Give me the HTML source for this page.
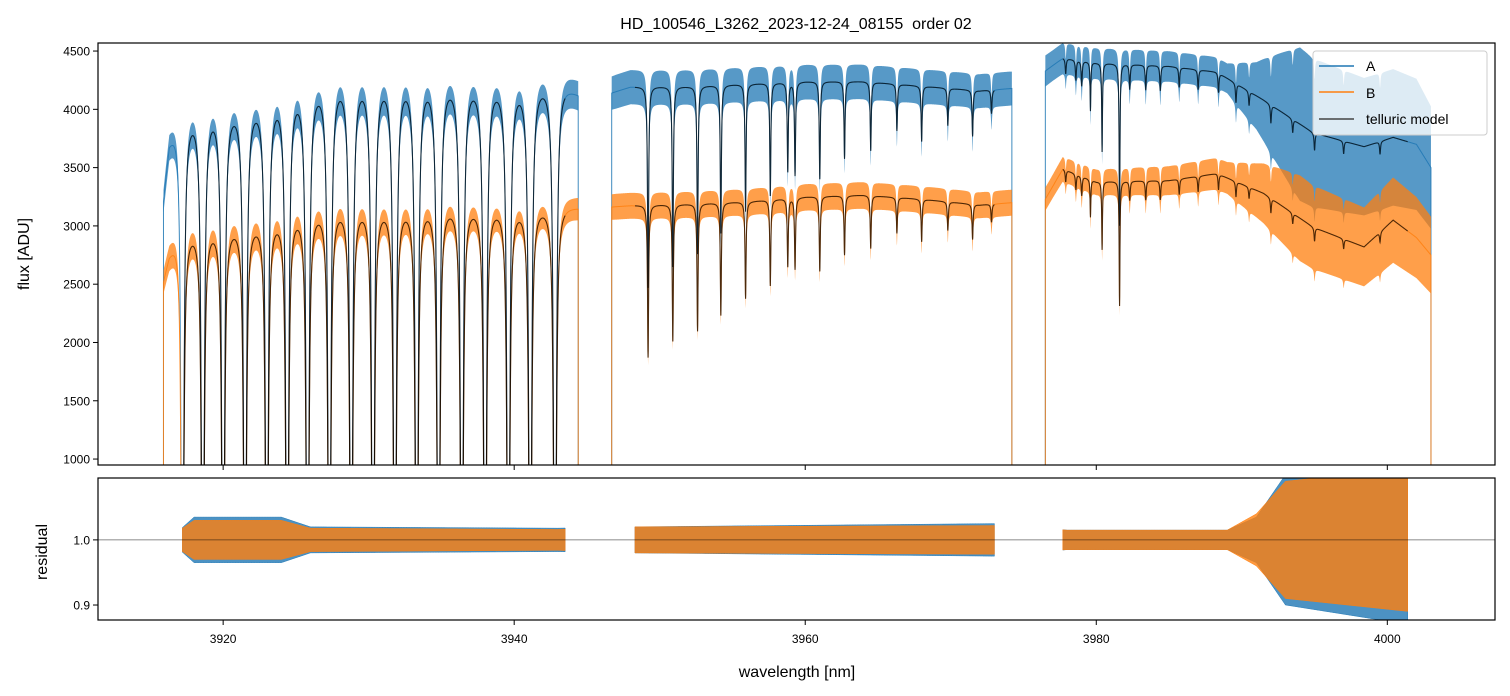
<!DOCTYPE html>
<html><head><meta charset="utf-8">
<style>
html,body{margin:0;padding:0;background:#fff;}
svg{display:block;font-family:"Liberation Sans","DejaVu Sans",sans-serif;}
</style></head>
<body>
<svg id="chart" width="1510" height="696" viewBox="0 0 1510 696" xmlns="http://www.w3.org/2000/svg">
<defs>
<clipPath id="clipTop"><rect x="98" y="43" width="1397" height="422"/></clipPath>
<clipPath id="clipBot"><rect x="98" y="478" width="1397" height="142"/></clipPath>
</defs>
<text x="796" y="29" text-anchor="middle" font-size="16">HD_100546_L3262_2023-12-24_08155 &#160;order 02</text>
<g id="topMarks" clip-path="url(#clipTop)"></g>
<g id="botMarks" clip-path="url(#clipBot)"></g>
<rect x="98" y="43" width="1397" height="422" fill="none" stroke="#000" stroke-width="1.2"/>
<rect x="98" y="478" width="1397" height="142" fill="none" stroke="#000" stroke-width="1.2"/>
<g id="axes" font-size="12"></g>
<text transform="translate(29,254) rotate(-90)" text-anchor="middle" font-size="16">flux [ADU]</text>
<text transform="translate(47,552) rotate(-90)" text-anchor="middle" font-size="16">residual</text>
<text x="797" y="677" text-anchor="middle" font-size="16">wavelength [nm]</text>
<g>
<rect x="1313" y="51" width="174" height="84" rx="3" fill="#fff" fill-opacity="0.8" stroke="#ccc"/>
<line x1="1319" y1="66" x2="1354" y2="66" stroke="#1f77b4" stroke-width="1.5"/>
<text x="1366" y="71" font-size="14">A</text>
<line x1="1319" y1="92" x2="1354" y2="92" stroke="#ff7f0e" stroke-width="1.5"/>
<text x="1366" y="98" font-size="14">B</text>
<line x1="1319" y1="119" x2="1354" y2="119" stroke="#444" stroke-width="1.5"/>
<text x="1366" y="124" font-size="14">telluric model</text>
</g>
</svg>
<script>
// ---- data ----
const segStart = [3915.9, 3946.7, 3976.5];
const segEnd   = [3944.4, 3974.2, 4003.0];
const modelStart = [3917.2, 3948.3, 3977.7];
const modelEnd   = [3943.5, 3973.0, 4001.4];
const contW = [3915.9,3916.3,3917,3919,3922,3925,3928,3932,3936,3940,3943,3944.4,
               3946.7,3948,3952,3956,3960,3964,3968,3972,3974.2,
               3976.5,3977.7,3980,3985,3988.3,3991.5,3994.9,3998.4,4000.4,4002,4003];
const contA = [3250,3750,3980,4050,4100,4220,4310,4310,4290,4260,4270,4150,
               4150,4200,4200,4220,4240,4240,4200,4160,4180,
               4330,4440,4400,4370,4320,4080,3800,3680,3760,3700,3500];
const contB = [2550,2780,2980,3030,3070,3160,3210,3210,3220,3200,3200,3170,
               3170,3180,3190,3210,3250,3265,3230,3180,3200,
               3230,3490,3380,3390,3450,3280,2990,2820,3050,2900,2750];
const lineW = [3917.2,3918.6,3920.0,3921.5,3923.0,3924.4,3925.8,3927.3,3928.8,3930.3,3931.8,3933.3,3934.8,3936.4,3938.0,3939.6,3941.1,3942.8,
               3949.2,3950.9,3952.6,3954.2,3955.9,3957.6,3958.8,3959.3,3961.0,3962.7,3964.5,3966.3,3968.0,3969.8,3971.5,3972.8,
               3977.9,3978.6,3979.0,3979.6,3980.4,3981.6,3982.3,3983.4,3984.4,3985.7,3987.0,3988.4,3989.6,3990.5,3992.0,3993.5,3995.0,3997.0,3999.5];
const lineTau = [60,60,60,60,60,60,60,60,60,60,60,60,60,60,60,60,60,60,
                 0.53,0.46,0.42,0.36,0.30,0.26,0.20,0.21,0.22,0.17,0.15,0.10,0.12,0.08,0.10,0.05,
                 0.03,0.04,0.05,0.10,0.19,0.38,0.05,0.05,0.05,0.04,0.04,0.04,0.04,0.03,0.04,0.03,0.04,0.03,0.03];
const lineHW = [0.015,0.015,0.015,0.015,0.015,0.015,0.015,0.015,0.015,0.015,0.015,0.015,0.015,0.015,0.015,0.015,0.015,0.015,
                0.04,0.04,0.04,0.04,0.04,0.04,0.04,0.04,0.04,0.04,0.04,0.04,0.04,0.04,0.04,0.04,
                0.04,0.04,0.04,0.03,0.03,0.03,0.04,0.04,0.04,0.04,0.04,0.04,0.04,0.04,0.04,0.04,0.04,0.04,0.04];
const noiseW = [3916,3925,3944,3947,3974,3977,3989,3991,3994,4003];
const noiseA = [0.03,0.03,0.03,0.035,0.035,0.03,0.03,0.07,0.17,0.15];
const noiseB = [0.04,0.04,0.03,0.035,0.035,0.03,0.04,0.07,0.12,0.12];
const resW = [3917,3918,3924,3926,3943,3948,3973,3978,3989,3991,3993,4001.5];
const resA = [0.015,0.035,0.035,0.02,0.018,0.02,0.025,0.015,0.015,0.035,0.1,0.13];
const resB = [0.015,0.03,0.03,0.018,0.016,0.02,0.022,0.015,0.015,0.04,0.09,0.11];
const xTicks = [3920,3940,3960,3980,4000];
const yTicks = [1000,1500,2000,2500,3000,3500,4000,4500];
const rTicks = [0.9,1.0];

// ---- scales ----
const X0=3911.4, X1=4007.4;
const xs = w => 98 + (w-X0)*1397/(X1-X0);
const ys = v => 43 + (4569-v)*422/3620;
const yr = r => 478 + (1.095-r)*142/0.218;
function interp(W,V,w){
  if(w<=W[0])return V[0];
  for(let i=1;i<W.length;i++){ if(w<=W[i]){const t=(w-W[i-1])/(W[i]-W[i-1]);return V[i-1]+t*(V[i]-V[i-1]);} }
  return V[V.length-1];
}
function trans(w){
  let tau=0;
  for(let i=0;i<lineW.length;i++){const d=(w-lineW[i])/lineHW[i];tau+=lineTau[i]/(1+d*d);}
  return Math.exp(-tau);
}
const NS='http://www.w3.org/2000/svg';
const topG=document.getElementById('topMarks'), botG=document.getElementById('botMarks'), axesG=document.getElementById('axes');
function mk(tag,attrs,parent){const e=document.createElementNS(NS,tag);for(const k in attrs)e.setAttribute(k,attrs[k]);parent.appendChild(e);return e;}
const step=0.01;

function drawBand(cont,noise,color,name){
  for(let s=0;s<3;s++){
    const up=[],lo=[],mid=[];
    for(let w=segStart[s];w<=segEnd[s]+1e-9;w+=step){
      const v=interp(contW,cont,w)*trans(w), n=interp(noiseW,noise,w);
      up.push(xs(w).toFixed(2)+','+ys(v*(1+n)).toFixed(2));
      lo.push(xs(w).toFixed(2)+','+ys(v*(1-n)).toFixed(2));
      mid.push(xs(w).toFixed(2)+','+ys(v).toFixed(2));
    }
    const p=mk('polygon',{points:up.concat(lo.reverse()).join(' '),fill:color,'fill-opacity':0.75,stroke:'none'},topG);
    
    
    const xa=xs(segStart[s]).toFixed(2), xb=xs(segEnd[s]).toFixed(2);
    const l=mk('polyline',{points:xa+',470 '+mid.join(' ')+' '+xb+',470',fill:'none',stroke:color,'stroke-width':1,'stroke-opacity':0.85},topG);
    
    
  }
}
function drawModel(cont,name){
  for(let s=0;s<3;s++){
    const pts=[];
    for(let w=modelStart[s];w<=modelEnd[s]+1e-9;w+=step){
      pts.push(xs(w).toFixed(2)+','+ys(interp(contW,cont,w)*trans(w)).toFixed(2));
    }
    const l=mk('polyline',{points:pts.join(' '),fill:'none',stroke:'#000','stroke-opacity':0.7,'stroke-width':1.1},topG);
    
    
  }
}
drawBand(contA,noiseA,'#1f77b4','series-a');
drawBand(contB,noiseB,'#ff7f0e','series-b');
drawModel(contA,'telluric-model-a');
drawModel(contB,'telluric-model-b');

function drawRes(amp,color,name){
  for(let s=0;s<3;s++){
    const up=[],lo=[];
    for(let w=modelStart[s];w<=modelEnd[s]+1e-9;w+=0.05){
      const a=interp(resW,amp,w);
      up.push(xs(w).toFixed(2)+','+yr(1+a).toFixed(2));
      lo.push(xs(w).toFixed(2)+','+yr(1-a).toFixed(2));
    }
    const p=mk('polygon',{points:up.concat(lo.reverse()).join(' '),fill:color,'fill-opacity':0.8,stroke:color,'stroke-width':0.5},botG);
    
    
  }
}
drawRes(resA,'#1f77b4','residual-a');
drawRes(resB,'#ff7f0e','residual-b');
const refLine=mk('line',{x1:98,x2:1495,y1:yr(1),y2:yr(1),stroke:'#000','stroke-opacity':0.6,'stroke-width':0.8},botG);



// ---- axes ----
xTicks.forEach(t=>{
  const x=xs(t);
  const a=mk('line',{x1:x,x2:x,y1:465,y2:470,stroke:'#000'},axesG);
  
  
  const b=mk('line',{x1:x,x2:x,y1:620,y2:625,stroke:'#000'},axesG);
  
  
  const tx=mk('text',{x:x,y:643,'text-anchor':'middle'},axesG);tx.textContent=t;
  
  
});
yTicks.forEach(t=>{
  const y=ys(t);
  const a=mk('line',{x1:93,x2:98,y1:y,y2:y,stroke:'#000'},axesG);
  
  
  const tx=mk('text',{x:90,y:y+4.5,'text-anchor':'end'},axesG);tx.textContent=t;
  
  
});
rTicks.forEach(t=>{
  const y=yr(t);
  const a=mk('line',{x1:93,x2:98,y1:y,y2:y,stroke:'#000'},axesG);
  
  
  const tx=mk('text',{x:90,y:y+4.5,'text-anchor':'end'},axesG);tx.textContent=t.toFixed(1);
  
  
});
</script>
</body></html>
